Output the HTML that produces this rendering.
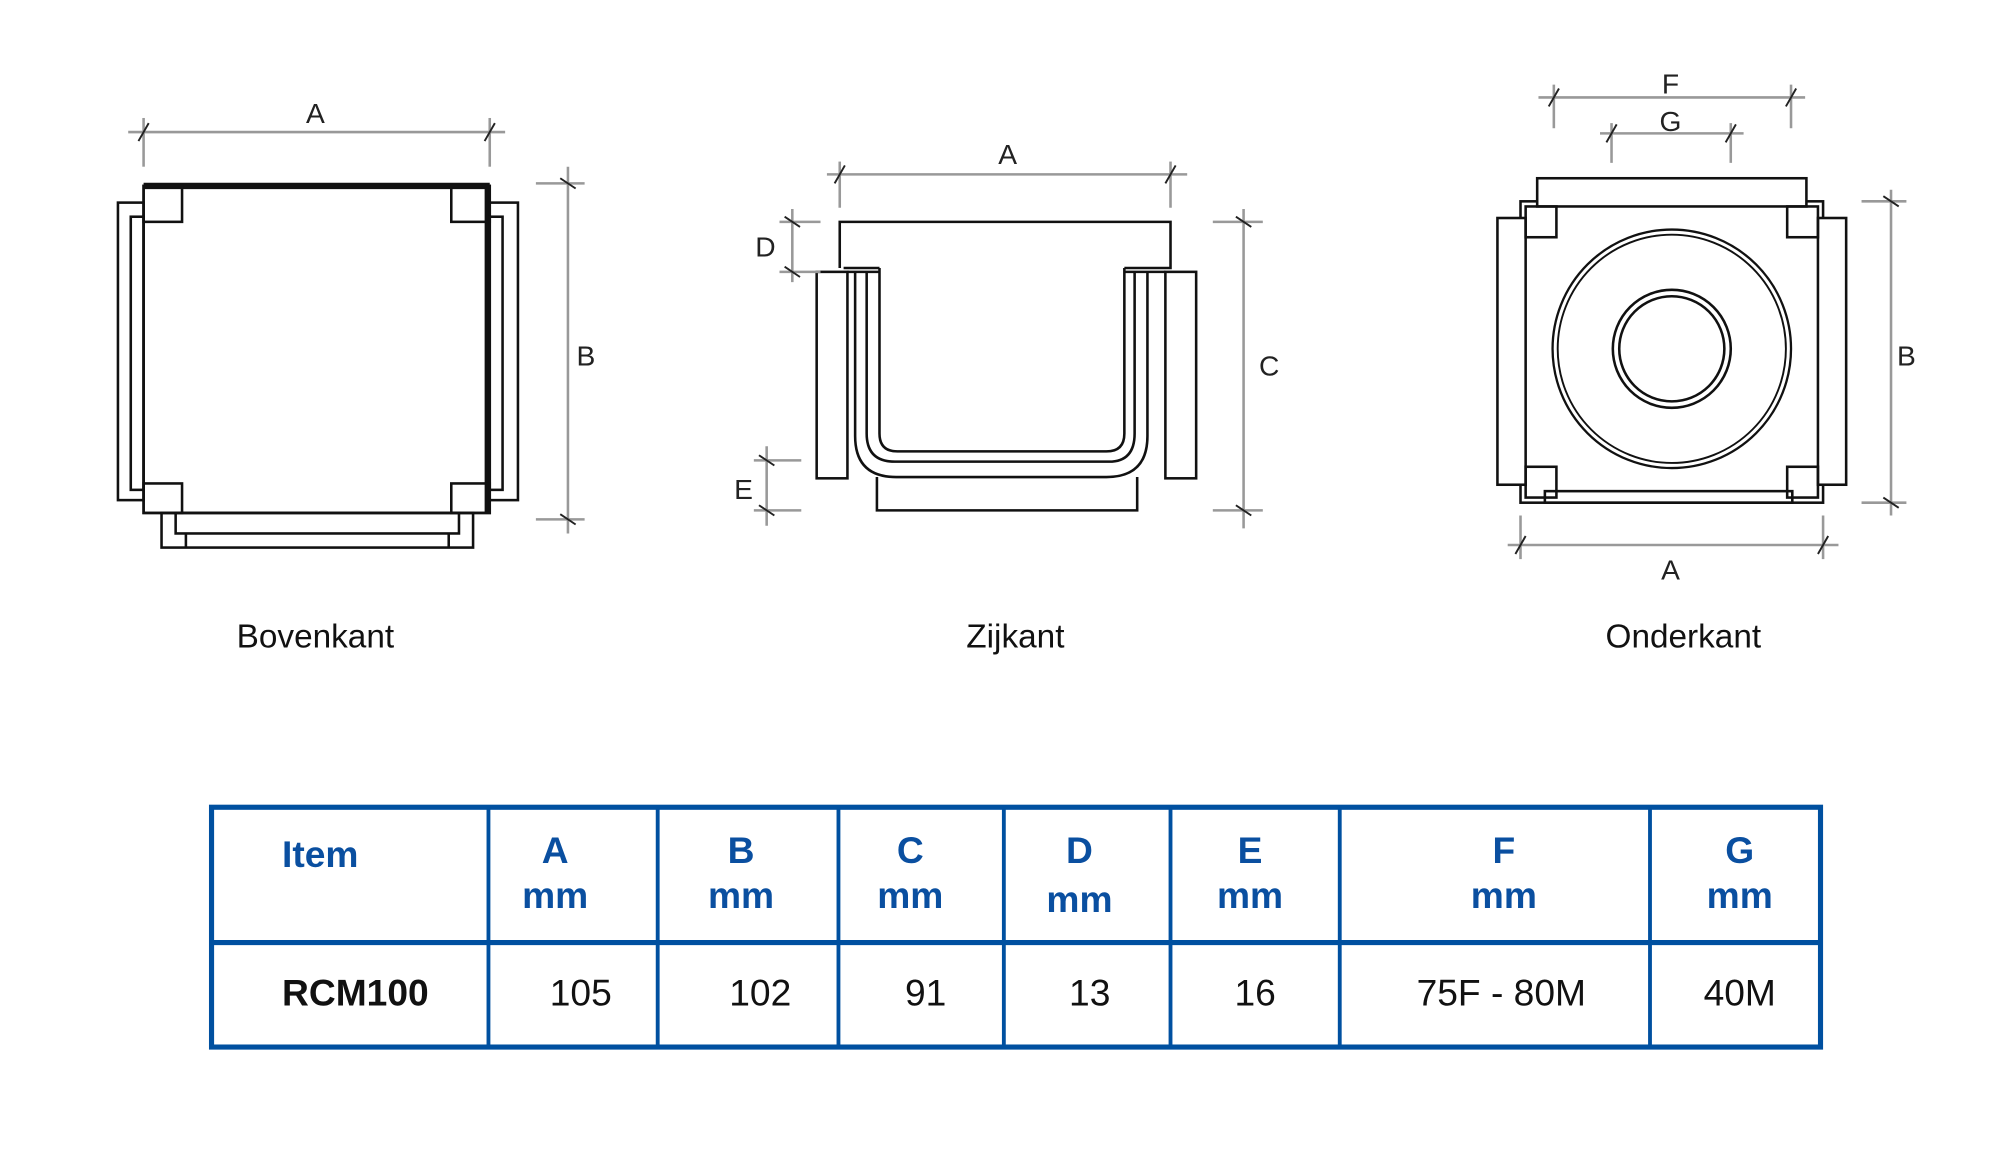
<!DOCTYPE html>
<html><head><meta charset="utf-8"><style>html,body{margin:0;padding:0;background:#fff}svg{display:block}</style></head>
<body>
<svg width="2000" height="1149" viewBox="0 0 1560 896" preserveAspectRatio="none" xmlns="http://www.w3.org/2000/svg" font-family="Liberation Sans, sans-serif">
<g fill="none" stroke="#111" stroke-width="2">
<!-- Bovenkant -->
<rect x="112" y="145" width="270" height="255"/>
<line x1="112" y1="145" x2="382" y2="145" stroke-width="5"/>
<line x1="380" y1="145" x2="380" y2="400" stroke-width="4"/>
<rect x="112" y="145" width="30" height="28"/><rect x="352" y="145" width="30" height="28"/>
<rect x="112" y="377" width="30" height="23"/><rect x="352" y="377" width="30" height="23"/>
<rect x="92" y="158" width="20" height="232"/><rect x="102" y="169" width="10" height="213"/>
<rect x="382" y="158" width="22" height="232"/><rect x="382" y="169" width="10" height="213"/>
<rect x="126" y="400" width="243" height="27"/><rect x="137" y="400" width="221" height="16"/>
<line x1="145" y1="416" x2="145" y2="427"/><line x1="350" y1="416" x2="350" y2="427"/>
<!-- Zijkant -->
<path d="M655,209 V173 H913 V209 H877"/>
<path d="M658,209 H686"/>
<rect x="637" y="212" width="24" height="161"/><rect x="909" y="212" width="24" height="161"/>
<path d="M684,372 V398 H887 V372"/>
<path d="M686,209 V338 Q686,352 700,352 H863 Q877,352 877,338 V209"/>
<path d="M676,212 V338 Q676,360 698,360 H865 Q885,360 885,338 V212"/>
<path d="M667,212 V340 Q667,372 699,372 H863 Q895,372 895,340 V212"/>
<path d="M661,212 H686 M877,212 H909"/>
<!-- Onderkant -->
<rect x="1186" y="157" width="236" height="235"/>
<rect x="1199" y="139" width="210" height="22" fill="#fff"/>
<rect x="1168" y="170" width="22" height="208" fill="#fff"/><rect x="1418" y="170" width="22" height="208" fill="#fff"/>
<rect x="1190" y="161" width="24" height="24"/><rect x="1394" y="161" width="24" height="24"/>
<rect x="1190" y="364" width="24" height="24"/><rect x="1394" y="364" width="24" height="24"/>
<rect x="1205" y="383" width="193" height="9"/>
<circle cx="1304" cy="272" r="93" stroke-width="1.8"/><circle cx="1304" cy="272" r="89" stroke-width="1.5"/>
<circle cx="1304" cy="272" r="46" stroke-width="2"/><circle cx="1304" cy="272" r="41" stroke-width="2"/>
</g>
<g fill="none" stroke="#999" stroke-width="2">
<line x1="100" y1="103" x2="394" y2="103"/><line x1="112" y1="92" x2="112" y2="130"/><line x1="382" y1="92" x2="382" y2="130"/>
<line x1="443" y1="130" x2="443" y2="416"/><line x1="418" y1="143" x2="456" y2="143"/><line x1="418" y1="405" x2="456" y2="405"/>
<line x1="645" y1="136" x2="926" y2="136"/><line x1="655" y1="126" x2="655" y2="162"/><line x1="913" y1="126" x2="913" y2="162"/>
<line x1="618" y1="163" x2="618" y2="220"/><line x1="608" y1="173" x2="640" y2="173"/><line x1="608" y1="212" x2="640" y2="212"/>
<line x1="598" y1="348" x2="598" y2="410"/><line x1="588" y1="359" x2="625" y2="359"/><line x1="588" y1="398" x2="625" y2="398"/>
<line x1="970" y1="163" x2="970" y2="412"/><line x1="946" y1="173" x2="985" y2="173"/><line x1="946" y1="398" x2="985" y2="398"/>
<line x1="1200" y1="76" x2="1408" y2="76"/><line x1="1212" y1="66" x2="1212" y2="100"/><line x1="1397" y1="66" x2="1397" y2="100"/>
<line x1="1248" y1="104" x2="1360" y2="104"/><line x1="1257" y1="96" x2="1257" y2="127"/><line x1="1350" y1="96" x2="1350" y2="127"/>
<line x1="1475" y1="148" x2="1475" y2="402"/><line x1="1452" y1="157" x2="1487" y2="157"/><line x1="1452" y1="392" x2="1487" y2="392"/>
<line x1="1176" y1="425" x2="1434" y2="425"/><line x1="1186" y1="402" x2="1186" y2="436"/><line x1="1422" y1="402" x2="1422" y2="436"/>
</g>
<g stroke="#222" stroke-width="1.5">
<line x1="108" y1="110" x2="116" y2="96"/><line x1="378" y1="110" x2="386" y2="96"/>
<line x1="437" y1="139" x2="449" y2="147"/><line x1="437" y1="401" x2="449" y2="409"/>
<line x1="651" y1="143" x2="659" y2="129"/><line x1="909" y1="143" x2="917" y2="129"/>
<line x1="612" y1="169" x2="624" y2="177"/><line x1="612" y1="208" x2="624" y2="216"/>
<line x1="592" y1="355" x2="604" y2="363"/><line x1="592" y1="394" x2="604" y2="402"/>
<line x1="964" y1="169" x2="976" y2="177"/><line x1="964" y1="394" x2="976" y2="402"/>
<line x1="1208" y1="83" x2="1216" y2="69"/><line x1="1393" y1="83" x2="1401" y2="69"/>
<line x1="1253" y1="111" x2="1261" y2="97"/><line x1="1346" y1="111" x2="1354" y2="97"/>
<line x1="1469" y1="153" x2="1481" y2="161"/><line x1="1469" y1="388" x2="1481" y2="396"/>
<line x1="1182" y1="432" x2="1190" y2="418"/><line x1="1418" y1="432" x2="1426" y2="418"/>
</g>
<g font-size="22" fill="#222" text-anchor="middle">
<text x="246" y="96">A</text><text x="457" y="285">B</text>
<text x="786" y="128">A</text><text x="597" y="200">D</text><text x="580" y="389">E</text><text x="990" y="293">C</text>
<text x="1303" y="73">F</text><text x="1303" y="102">G</text><text x="1487" y="285">B</text><text x="1303" y="452">A</text>
</g>
<g font-size="26" fill="#111" text-anchor="middle">
<text x="246" y="505">Bovenkant</text><text x="792" y="505">Zijkant</text><text x="1313" y="505">Onderkant</text>
</g>
<!-- table -->
<g stroke="#0050a0" fill="none">
<rect x="165" y="629.5" width="1255" height="187" stroke-width="4"/>
<line x1="165" y1="735" x2="1420" y2="735" stroke-width="4"/>
<g stroke-width="3">
<line x1="381" y1="629" x2="381" y2="817"/><line x1="513" y1="629" x2="513" y2="817"/><line x1="654" y1="629" x2="654" y2="817"/>
<line x1="783" y1="629" x2="783" y2="817"/><line x1="913" y1="629" x2="913" y2="817"/><line x1="1045" y1="629" x2="1045" y2="817"/>
<line x1="1287" y1="629" x2="1287" y2="817"/>
</g></g>
<g font-size="29" font-weight="bold" fill="#0a4fa0" text-anchor="middle">
<text x="220" y="676" text-anchor="start">Item</text>
<text x="433" y="673">A</text><text x="433" y="708">mm</text>
<text x="578" y="673">B</text><text x="578" y="708">mm</text>
<text x="710" y="673">C</text><text x="710" y="708">mm</text>
<text x="842" y="673">D</text><text x="842" y="711">mm</text>
<text x="975" y="673">E</text><text x="975" y="708">mm</text>
<text x="1173" y="673">F</text><text x="1173" y="708">mm</text>
<text x="1357" y="673">G</text><text x="1357" y="708">mm</text>
</g>
<g font-size="29" fill="#111" text-anchor="middle">
<text x="220" y="784" text-anchor="start" font-weight="bold">RCM100</text>
<text x="453" y="784">105</text><text x="593" y="784">102</text><text x="722" y="784">91</text>
<text x="850" y="784">13</text><text x="979" y="784">16</text><text x="1171" y="784">75F - 80M</text><text x="1357" y="784">40M</text>
</g>
</svg>
</body></html>
